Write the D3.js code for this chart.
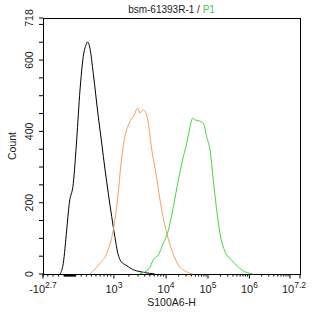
<!DOCTYPE html>
<html>
<head>
<meta charset="utf-8">
<script src="https://cdn.jsdelivr.net/npm/d3@7"></script>
<style>
    body { margin: 0; background: #fff; }
    text { font-family: "Liberation Sans", Arial, sans-serif; fill: #1a1a1a; }
</style>
</head>
<body>
<div id="chart"></div>
<script>
// histogram traces: fluorescence value (S100A6-H) and event count
const blackX = [-171, -114, -56, -12, 58, 118, 178, 239, 304, 320, 370, 440, 555, 639, 728, 821, 926,
    1045, 1210, 1406, 1754, 2350, 3410, 4920, 6150];
const blackCount = [0, 30, 123, 198, 254, 376, 516, 610, 647, 651, 633, 563, 441, 367, 292, 226, 161,
    105, 58, 35, 25, 13, 6, 2, 0];

const orangeX = [370, 596, 777, 978, 1210, 1406, 1627, 2030, 2530, 2930, 3260, 3830, 4570, 5310, 6620,
    8270, 10390, 13670, 19630, 31100, 41600];
const orangeCount = [0, 30, 58, 123, 217, 311, 376, 423, 446, 465, 452, 460, 432, 357, 273,
    180, 114, 67, 25, 6, 0];

const greenX = [3160, 4920, 5700, 7110, 8880, 11340, 14920, 19630, 25800, 31100, 37300, 43200, 49000,
    58700, 77300, 93100, 111700, 134200, 162100, 194600, 257000, 372000, 537000, 779000, 1030000, 1220000];
const greenCount = [0, 16, 39, 53, 86, 123, 189, 264, 329, 367, 413, 437, 432,
    430, 423, 385, 348, 264, 180, 114, 63, 39, 20, 6, 2, 0];

// axis ticks
const yMajor = [0, 200, 400, 600, 718];
const yMinor = [50, 100, 150, 250, 300, 350, 450, 500, 550, 650, 700];
const xTickVals = [-Math.pow(10, 2.7), 1e3, 1e4, 1e5, 1e6, Math.pow(10, 7.2)];
const xTickBase = ["-10", "10", "10", "10", "10", "10"];
const xTickSup = ["2.7", "3", "4", "5", "6", "7.2"];
const xExtraMajor = [1e7];

const width_svg = 314, height_svg = 317;
const margin = {top: 18, right: 14, bottom: 43, left: 43};
const plotW = width_svg - margin.left - margin.right;
const plotH = height_svg - margin.top - margin.bottom;

// biexponential-like x axis: asinh transform, then a piecewise linear map of the decades
const c = 600;
const T = v => Math.asinh(v / c);
const breaks = [-Math.pow(10, 2.7), 0, 1e3, 1e4, 1e5, 1e6, 1e7, Math.pow(10, 7.2)];
const breakFrac = [0, 0.105, 0.276, 0.479, 0.642, 0.803, 0.961, 1];
const xLin = d3.scaleLinear()
    .domain(breaks.map(T))
    .range(breakFrac.map(f => margin.left + f * plotW));
const x = v => xLin(T(v));

const y = d3.scaleLinear()
    .domain([0, 718])
    .range([margin.top + plotH, margin.top]);

var svg = d3.select("#chart")
    .append("svg")
    .attr("width", width_svg)
    .attr("height", height_svg);

// minor x ticks
let xMinor = [];
[-500, -400, -300, -200, -100].forEach(v => xMinor.push(v));
for (let k = 1; k <= 9; k++) { xMinor.push(-10 * k); xMinor.push(10 * k); xMinor.push(100 * k); }
xMinor.push(0);
[1e3, 1e4, 1e5, 1e6].forEach(d => { for (let k = 2; k <= 9; k++) xMinor.push(d * k); });

const axisY = margin.top + plotH;

svg.append("g")
    .selectAll("line")
    .data(xMinor)
    .enter()
    .append("line")
    .attr("x1", d => x(d)).attr("x2", d => x(d))
    .attr("y1", axisY).attr("y2", axisY + 2.5)
    .attr("stroke", "#000").attr("stroke-width", 1);

svg.append("g")
    .selectAll("line")
    .data(xTickVals.concat(xExtraMajor))
    .enter()
    .append("line")
    .attr("x1", d => x(d)).attr("x2", d => x(d))
    .attr("y1", axisY).attr("y2", axisY + 4.5)
    .attr("stroke", "#000").attr("stroke-width", 1);

// x tick labels with exponents
const labelShift = [0, 0, 0, 0, 0, -6];
const xl = svg.append("g")
    .selectAll("text")
    .data(xTickVals)
    .enter()
    .append("text")
    .attr("x", (d, i) => x(d) + labelShift[i])
    .attr("y", 293)
    .attr("text-anchor", "middle")
    .style("font-size", "11px");
xl.append("tspan").text((d, i) => xTickBase[i]);
xl.append("tspan")
    .attr("dy", -5)
    .style("font-size", "8.5px")
    .text((d, i) => xTickSup[i]);

// y ticks
svg.append("g")
    .selectAll("line")
    .data(yMajor.concat(yMinor))
    .enter()
    .append("line")
    .attr("x1", margin.left - 4).attr("x2", margin.left)
    .attr("y1", d => y(d)).attr("y2", d => y(d))
    .attr("stroke", "#000").attr("stroke-width", 1);

svg.append("g")
    .selectAll("text")
    .data(yMajor)
    .enter()
    .append("text")
    .attr("transform", d => `translate(33,${y(d)}) rotate(-90)`)
    .attr("text-anchor", "middle")
    .style("font-size", "10.5px")
    .text(d => d);

// frame
svg.append("rect")
    .attr("x", margin.left + 0.5)
    .attr("y", margin.top + 0.5)
    .attr("width", plotW)
    .attr("height", plotH)
    .attr("fill", "none")
    .attr("stroke", "#000")
    .attr("stroke-width", 1);

// traces
const line = d3.line()
    .x(d => x(d[0]))
    .y(d => y(d[1]))
    .curve(d3.curveMonotoneX);

const traces = [
    {xs: blackX, ys: blackCount, color: "#000000"},
    {xs: orangeX, ys: orangeCount, color: "#efa263"},
    {xs: greenX, ys: greenCount, color: "#3fd83f"}
];
traces.forEach(t => {
    svg.append("path")
        .datum(t.xs.map((v, i) => [v, t.ys[i]]))
        .attr("d", line)
        .attr("fill", "none")
        .attr("stroke", t.color)
        .attr("stroke-width", 1);
});

// titles
const title = svg.append("text")
    .attr("x", margin.left + plotW / 2)
    .attr("y", 13)
    .attr("text-anchor", "middle")
    .style("font-size", "10px");
title.append("tspan").text("bsm-61393R-1 / ");
title.append("tspan").style("fill", "#3fcc3f").text("P1");

svg.append("text")
    .attr("x", margin.left + plotW / 2)
    .attr("y", 306)
    .attr("text-anchor", "middle")
    .style("font-size", "10.5px")
    .text("S100A6-H");

svg.append("text")
    .attr("transform", `translate(16,${margin.top + plotH / 2}) rotate(-90)`)
    .attr("text-anchor", "middle")
    .style("font-size", "10.5px")
    .text("Count");
</script>
</body>
</html>
